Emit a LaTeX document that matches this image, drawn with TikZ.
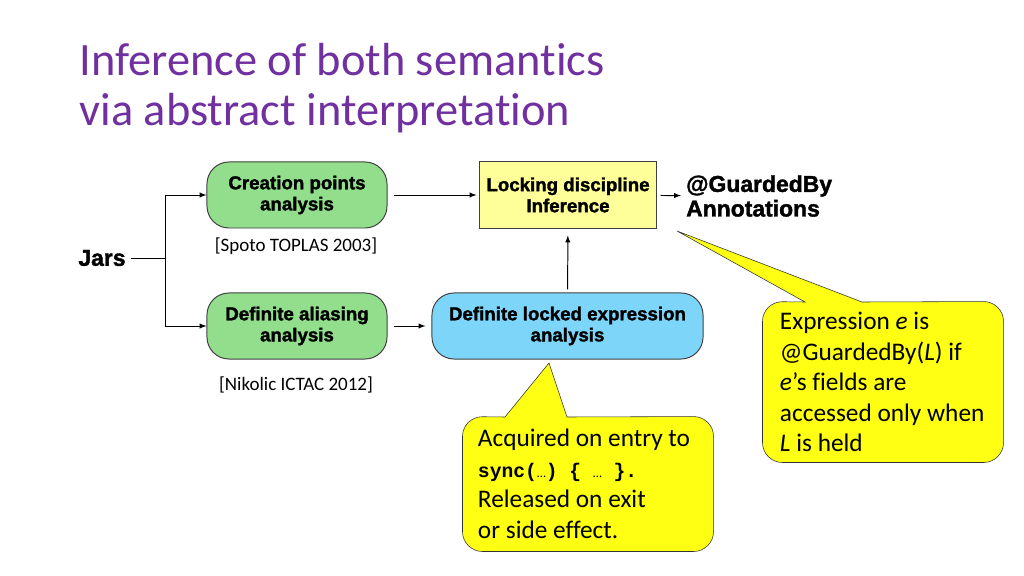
\documentclass[tikz,border=0pt]{standalone}
\usepackage{fontspec}
\setmainfont{Carlito}[Ligatures={TeX,NoCommon}]
\setmonofont{Liberation Mono}
\newfontfamily\boxfont{Liberation Sans}[BoldFeatures={FakeBold=1.6}]
\usetikzlibrary{backgrounds}

\definecolor{titlepurple}{RGB}{112,48,160}
\definecolor{anagreen}{RGB}{146,222,140}
\definecolor{anablue}{RGB}{125,214,250}
\definecolor{lockyellow}{RGB}{255,255,153}
\definecolor{noteyellow}{RGB}{255,255,20}

\newcommand\syncword{{\ttfamily\bfseries\fontsize{14}{21.7}\selectfont sync(}{\fontsize{9}{21.7}\selectfont …}{\ttfamily\bfseries\fontsize{14}{21.7}\selectfont) \{ }{\fontsize{9}{21.7}\selectfont …}{\ttfamily\bfseries\fontsize{14}{21.7}\selectfont\ \}.}}

\begin{document}
\begin{tikzpicture}[x=0.025cm, y=-0.025cm, >=latex, line width=0.7pt,
    title/.style={inner sep=0pt, align=left, text=titlepurple, font=\fontsize{33}{35.5}\selectfont},
    label/.style={font=\boxfont\bfseries\fontsize{16.3}{17.5}\selectfont},
    analysis/.style={draw=black!75, fill=anagreen, rounded corners=0.55cm, minimum width=4.5cm,
                     minimum height=1.65cm, align=center, font=\boxfont\bfseries\fontsize{13.3}{15}\selectfont},
    lockbox/.style={analysis, rounded corners=0pt, fill=lockyellow, minimum width=4.4cm},
    cite/.style={font=\fontsize{13.5}{16}\selectfont},
    note/.style={align=flush left, font=\fontsize{18}{21.7}\selectfont},
    notefill/.style={draw=black!80, fill=noteyellow}]
  \useasboundingbox (0,0) rectangle (1024,576);

  \node[title, anchor=north west] (title) at (79,43) {Inference of both semantics\\via abstract interpretation};

  \node[label]                              (jars)     at (102,258)   {Jars};
  \node[analysis]                           (creation) at (297,195)   {Creation points\\analysis};
  \node[analysis]                           (aliasing) at (297,326)   {Definite aliasing\\analysis};
  \node[lockbox]                            (locking)  at (568,195)   {Locking discipline\\Inference};
  \node[analysis, fill=anablue, minimum width=6.775cm]
                                            (locked)   at (567.5,326) {Definite locked expression\\analysis};
  \node[label, align=left, anchor=west]     (guarded)  at (681,196)   {@GuardedBy\\Annotations};
  \node[cite]                               (spoto)    at (296,246)   {[Spoto TOPLAS 2003]};
  \node[cite]                               (nikolic)  at (296,385)   {[Nikolic ICTAC 2012]};

  \node[note, inner xsep=0.425cm, text width=5.15cm, minimum height=4cm] (guardnote) at (883,382)
    {Expression \textit{e} is\\@GuardedBy(\textit{L}) if\\\textit{e}'s fields are\\accessed only when\\\textit{L} is held};
  \node[note, inner xsep=0.375cm, text width=5.5cm, minimum height=3.35cm] (syncnote) at (588,484)
    {Acquired on entry to\\\syncword\\Released on exit\\or side effect.};

  % callout bubbles
  \coordinate (guardtip)   at (677,231);
  \coordinate (guardbaseA) at (805,302);
  \coordinate (guardbaseB) at (862,302);
  \coordinate (synctip)    at (549,363);
  \coordinate (syncbaseA)  at (505,417);
  \coordinate (syncbaseB)  at (567,417);
  \begin{scope}[on background layer]
    \draw[notefill] (guardnote.west) [rounded corners=0.5cm] -- (guardnote.north west)
      [sharp corners] -- (guardbaseA) -- (guardtip) -- (guardbaseB)
      [rounded corners=0.5cm] -- (guardnote.north east) -- (guardnote.south east) -- (guardnote.south west) -- cycle;
    \draw[notefill] (syncnote.west) [rounded corners=0.5cm] -- (syncnote.north west)
      [sharp corners] -- (syncbaseA) -- (synctip) -- (syncbaseB)
      [rounded corners=0.5cm] -- (syncnote.north east) -- (syncnote.south east) -- (syncnote.south west) -- cycle;
  \end{scope}

  % flow
  \coordinate (fork) at (165,258);
  \draw (jars) -- (fork);
  \draw[->] (fork) |- (creation);
  \draw[->] (fork) |- (aliasing);
  \draw[->, shorten <=0.15cm, shorten >=0.075cm] (creation) -- (locking);
  \draw[->, shorten <=0.15cm, shorten >=0.15cm]  (aliasing) -- (locked);
  \draw[->, shorten <=0.075cm, shorten >=0.175cm] (locked) -- (locking);
  \draw[->, shorten <=0.1cm] (locking) -- (guarded);
\end{tikzpicture}
\end{document}
